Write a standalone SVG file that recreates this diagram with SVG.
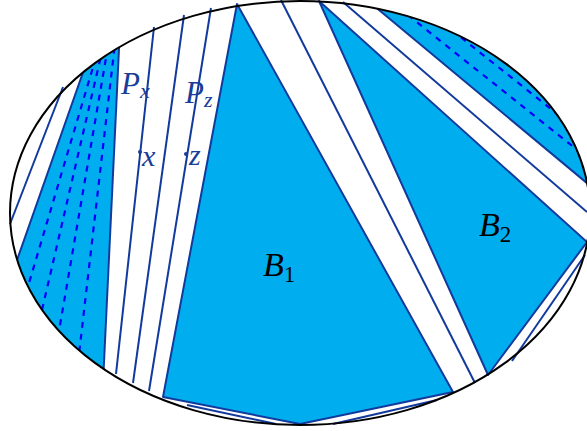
<svg xmlns="http://www.w3.org/2000/svg" width="587" height="431" viewBox="0 0 587 431">
<style>
.f{fill:#00AEEF;stroke:#123A9C;stroke-width:2;stroke-linejoin:round}
.l{fill:none;stroke:#123A9C;stroke-width:2}
.d{fill:none;stroke:#0000FF;stroke-width:2.2;stroke-dasharray:6,6}
.t{font-family:"Liberation Serif",serif;font-style:italic}
.b{fill:#1A3D9A}
</style>
<defs>
<clipPath id="ell"><ellipse cx="300" cy="213" rx="290" ry="212"/></clipPath>
</defs>
<ellipse cx="300" cy="213" rx="290" ry="212" fill="#fff"/>
<g id="regions" clip-path="url(#ell)">
<g id="leftRegion">
<polygon class="f" points="106,7 121,7 101,425 -41,425"/>
<line class="d" x1="113" y1="0" x2="18" y2="320"/>
<line class="d" x1="114" y1="0" x2="35" y2="340"/>
<line class="d" x1="116" y1="0" x2="54" y2="360"/>
<line class="d" x1="120" y1="0" x2="76" y2="380"/>
</g>
<g id="topRightRegion">
<polygon class="f" points="367,0 600,194 600,0"/>
<line class="d" x1="389" y1="0" x2="600" y2="168"/>
<line class="d" x1="414" y1="0" x2="600" y2="148"/>
</g>
</g>
<g id="connectors">
<line class="l" x1="63" y1="87" x2="10" y2="224"/>
<line class="l" x1="154" y1="27" x2="116" y2="374"/>
<line class="l" x1="184" y1="15" x2="133" y2="383"/>
<line class="l" x1="211" y1="8" x2="149" y2="391"/>
<line class="l" x1="281" y1="0" x2="475" y2="383"/>
<line class="l" x1="343" y1="2" x2="587" y2="212"/>
<line class="l" x1="585" y1="255" x2="512" y2="361"/>
<line class="l" x1="187" y1="405" x2="276" y2="424"/>
<line class="l" x1="333" y1="424" x2="437" y2="400"/>
</g>
<g id="B1">
<polygon class="f" points="237,4 453,392 300,424 163,397"/>
<text class="t" x="263" y="276" font-size="34">B<tspan font-size="23" dy="6" font-style="normal">1</tspan></text>
</g>
<g id="B2">
<polygon class="f" points="319,1 488,375 587,242"/>
<text class="t" x="479" y="236" font-size="34">B<tspan font-size="23" dy="6" font-style="normal">2</tspan></text>
</g>
<ellipse cx="300" cy="213" rx="290" ry="212" fill="none" stroke="#000" stroke-width="2"/>
<g id="Px">
<text class="t b" x="121" y="94" font-size="31">P<tspan font-size="22" dy="4">x</tspan></text>
</g>
<g id="Pz">
<text class="t b" x="185" y="103" font-size="31">P<tspan font-size="22" dy="4">z</tspan></text>
</g>
<g id="x">
<circle class="b" cx="140" cy="152" r="2"/>
<text class="t b" x="142" y="166" font-size="30">x</text>
</g>
<g id="z">
<circle class="b" cx="186" cy="154" r="2"/>
<text class="t b" x="189" y="165" font-size="30">z</text>
</g>
</svg>
